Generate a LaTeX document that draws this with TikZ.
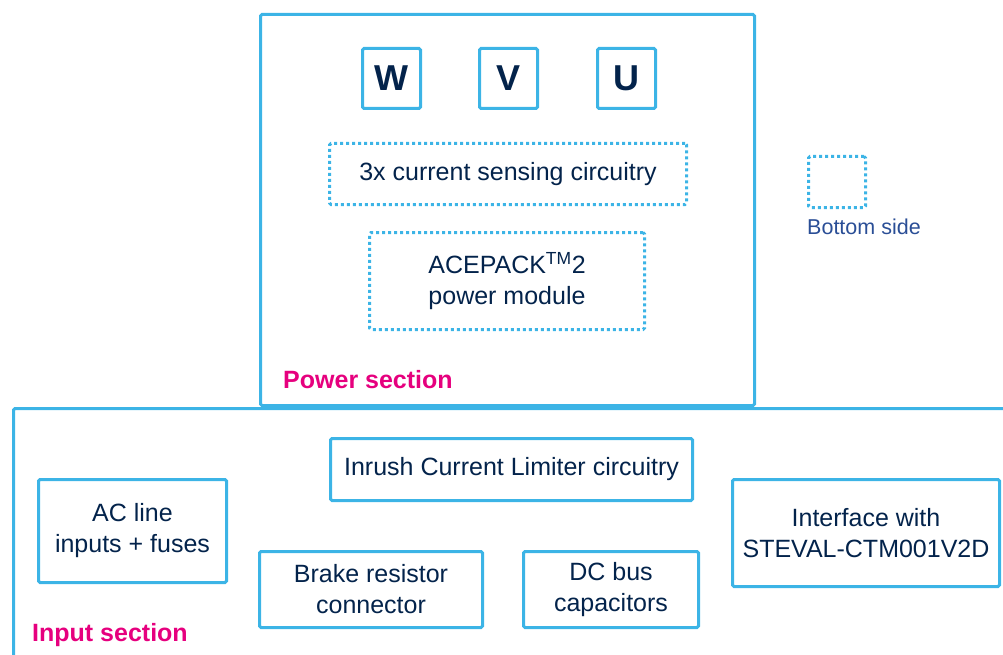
\documentclass[tikz,border=0pt]{standalone}
\usepackage{fontspec}
\setmainfont{Liberation Sans}
\usepackage{xcolor}
\definecolor{stblue}{HTML}{3CB4E6}
\definecolor{stnavy}{HTML}{03234B}
\definecolor{stpink}{HTML}{E6007E}
\definecolor{stmid}{HTML}{2A4E96}
\usetikzlibrary{positioning}
\tikzset{
  blk/.style={draw=stblue, line width=3pt, rounded corners=1.5pt, align=center,
              text=stnavy, font=\fontsize{25}{31}\selectfont, inner sep=0pt},
  pinbox/.style={blk, minimum width=58pt, minimum height=60pt,
                 font=\fontsize{36}{36}\selectfont\bfseries},
  dotblk/.style={blk, dash pattern=on 3pt off 3pt},
  seclbl/.style={text=stpink, font=\fontsize{25}{25}\selectfont\bfseries,
                 anchor=base west, inner sep=0pt},
}

\begin{document}
\begin{tikzpicture}[x=1pt,y=-1pt]
  \useasboundingbox (0,0) rectangle (1003,655);
  \clip (0,0) rectangle (1003,655);
  % power section
  \node[blk, minimum width=494pt, minimum height=391pt] (pwr) at (507.5,210) {};
  \node[pinbox] (w) at (391.5,78.5) {W};
  \node[pinbox] (v) at (508.5,78.5) {V};
  \node[pinbox] (u) at (626.5,78.5) {U};
  \node[dotblk, minimum width=357pt, minimum height=61pt] (sense) at (508,174)
       {3x current sensing circuitry};
  \node[dotblk, minimum width=275pt, minimum height=97pt] (ace) at (507,281)
       {ACEPACK\textsuperscript{TM}2\\power module};
  \node[seclbl] (pwrlbl) at (283,388) {Power section};
  % legend
  \node[dotblk, minimum width=57pt, minimum height=51pt] (bot) at (837,182) {};
  \node[below=10pt of bot.south west, anchor=north west, inner sep=0pt,
        text=stmid, font=\fontsize{21.5}{21.5}\selectfont] (botlbl) {Bottom side};
  % input section
  \node[blk, minimum width=1006pt, minimum height=272pt] (inp) at (516.5,544.5) {};
  \node[blk, minimum width=362pt, minimum height=62pt] (icl) at (511.5,469.5)
       {Inrush Current Limiter circuitry};
  \node[blk, minimum width=188pt, minimum height=103pt] (acl) at (132.5,531)
       {AC line\\inputs + fuses};
  \node[blk, minimum width=223pt, minimum height=76pt] (brk) at (371,589.5)
       {Brake resistor\\connector};
  \node[blk, minimum width=175pt, minimum height=76pt] (dcb) at (611,589.5)
       {DC bus\\capacitors};
  \node[blk, minimum width=267pt, minimum height=107pt] (ifc) at (866,533)
       {Interface with\\STEVAL-CTM001V2D};
  \node[seclbl] (inplbl) at (32,641) {Input section};
\end{tikzpicture}
\end{document}
